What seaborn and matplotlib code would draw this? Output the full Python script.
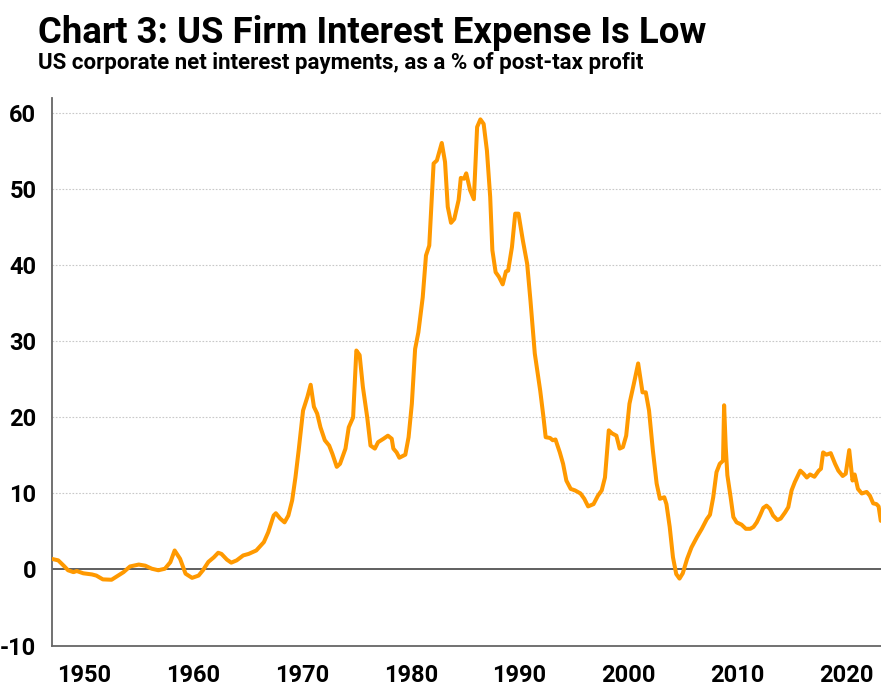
import numpy as np
import pandas as pd
import matplotlib
matplotlib.use("Agg")
import matplotlib.pyplot as plt
from matplotlib.ticker import MultipleLocator
import seaborn as sns

# Datos (año decimal, % del beneficio después de impuestos)
anios = [
    1947.0, 1947.6, 1948.1, 1948.5, 1949.0, 1949.3, 1949.9, 1950.7, 1951.1, 1951.7,
    1952.5, 1953.0, 1953.6, 1954.2, 1955.0, 1955.6, 1956.2, 1956.8, 1957.4, 1957.9,
    1958.3, 1958.8, 1959.3, 1959.9, 1960.5, 1960.9, 1961.4, 1961.9, 1962.3, 1962.6,
    1963.1, 1963.5, 1964.0, 1964.6, 1965.1, 1965.5, 1965.8, 1966.5, 1966.9, 1967.4,
    1967.6, 1968.0, 1968.4, 1968.75, 1969.1, 1969.4, 1969.7, 1970.1, 1970.5, 1970.8,
    1971.1, 1971.4, 1971.7, 1972.1, 1972.5, 1972.8, 1973.2, 1973.5, 1974.0, 1974.3,
    1974.7, 1975.0, 1975.3, 1975.6, 1976.0, 1976.3, 1976.7, 1977.0, 1977.5, 1977.9,
    1978.25, 1978.4, 1978.7, 1978.95, 1979.5, 1979.8, 1980.1, 1980.4, 1980.7, 1981.1,
    1981.4, 1981.7, 1982.1, 1982.4, 1982.85, 1983.15, 1983.4, 1983.7, 1984.0, 1984.4,
    1984.6, 1984.9, 1985.1, 1985.45, 1985.8, 1986.1, 1986.4, 1986.7, 1987.0, 1987.3,
    1987.5, 1987.8, 1988.1, 1988.45, 1988.75, 1988.95, 1989.3, 1989.6, 1989.9, 1990.3,
    1990.7, 1991.0, 1991.4, 1991.9, 1992.2, 1992.4, 1992.8, 1993.05, 1993.3, 1993.7,
    1994.0, 1994.3, 1994.7, 1995.1, 1995.6, 1995.95, 1996.3, 1996.8, 1997.2, 1997.55,
    1997.85, 1998.2, 1998.5, 1998.9, 1999.2, 1999.5, 1999.8, 2000.1, 2000.5, 2000.9,
    2001.3, 2001.6, 2001.9, 2002.25, 2002.6, 2002.9, 2003.3, 2003.5, 2003.8, 2004.1,
    2004.4, 2004.7, 2005.0, 2005.4, 2005.8, 2006.3, 2006.75, 2007.2, 2007.5, 2007.8,
    2008.1, 2008.4, 2008.7, 2008.8, 2008.95, 2009.1, 2009.4, 2009.65, 2009.95, 2010.4,
    2010.8, 2011.2, 2011.5, 2011.8, 2012.1, 2012.4, 2012.7, 2013.0, 2013.3, 2013.7,
    2014.0, 2014.4, 2014.7, 2015.0, 2015.3, 2015.8, 2016.1, 2016.4, 2016.7, 2017.1,
    2017.5, 2017.7, 2017.9, 2018.2, 2018.6, 2019.0, 2019.3, 2019.7, 2019.98, 2020.3,
    2020.6, 2020.8, 2021.1, 2021.45, 2021.9, 2022.2, 2022.5, 2022.8, 2023.0, 2023.2,
]
interes_pct = [
    1.4, 1.2, 0.5, -0.1, -0.35, -0.2, -0.5, -0.65, -0.8, -1.3,
    -1.35, -0.9, -0.35, 0.4, 0.65, 0.5, 0.1, -0.1, 0.1, 0.95,
    2.5, 1.4, -0.55, -1.1, -0.8, -0.1, 1.0, 1.6, 2.2, 2.05,
    1.3, 0.9, 1.2, 1.85, 2.05, 2.3, 2.5, 3.6, 4.9, 7.1,
    7.4, 6.7, 6.2, 7.1, 9.1, 12.1, 15.7, 20.9, 22.7, 24.3,
    21.4, 20.5, 18.7, 17.0, 16.3, 15.2, 13.5, 13.9, 15.9, 18.7,
    20.0, 28.8, 28.2, 24.0, 20.0, 16.3, 15.9, 16.75, 17.2, 17.6,
    17.2, 15.9, 15.4, 14.7, 15.1, 17.4, 21.8, 29.0, 31.2, 35.8,
    41.3, 42.6, 53.4, 53.8, 56.1, 53.6, 47.7, 45.6, 46.1, 48.6,
    51.5, 51.4, 52.1, 49.9, 48.7, 58.2, 59.2, 58.6, 55.1, 49.0,
    42.0, 39.1, 38.5, 37.5, 39.2, 39.3, 42.4, 46.8, 46.8, 43.3,
    40.2, 35.4, 28.4, 23.5, 20.0, 17.4, 17.3, 17.0, 17.1, 15.4,
    13.9, 11.7, 10.6, 10.4, 10.0, 9.3, 8.3, 8.6, 9.7, 10.4,
    12.1, 18.3, 17.9, 17.6, 15.9, 16.1, 17.6, 21.8, 24.4, 27.1,
    23.3, 23.3, 20.9, 15.7, 11.3, 9.3, 9.5, 8.6, 5.6, 1.6,
    -0.6, -1.2, -0.5, 1.4, 2.9, 4.25, 5.35, 6.6, 7.2, 9.5,
    12.8, 13.9, 14.3, 21.6, 16.1, 12.4, 9.5, 6.9, 6.2, 5.9,
    5.35, 5.35, 5.6, 6.2, 7.1, 8.1, 8.4, 8.0, 7.1, 6.5,
    6.7, 7.5, 8.2, 10.4, 11.5, 13.0, 12.6, 12.1, 12.5, 12.2,
    13.0, 13.25, 15.4, 15.1, 15.3, 13.9, 13.0, 12.3, 12.6, 15.7,
    11.7, 12.5, 10.6, 10.0, 10.2, 9.7, 8.7, 8.6, 8.3, 6.4,
]
y_ticks = [-10, 0, 10, 20, 30, 40, 50, 60]
y_labels = ["-10", "0", "10", "20", "30", "40", "50", "60"]
x_ticks = [1950, 1960, 1970, 1980, 1990, 2000, 2010, 2020]
x_labels = ["1950", "1960", "1970", "1980", "1990", "2000", "2010", "2020"]

df = pd.DataFrame({"Año": anios, "Interés": interes_pct})

sns.set_style("white")
plt.rcParams["font.family"] = ["Roboto", "DejaVu Sans"]

fig = plt.figure(figsize=(8.81, 6.86), dpi=100)
ax = fig.add_axes([0.0587, 0.059, 0.9413, 0.798])

# grilla punteada
for v in y_ticks[2:]:
    ax.axhline(v, color="#c8c8c8", linestyle=(0, (1.5, 1.5)), linewidth=0.8, zorder=0)
ax.axhline(0, color="#444444", linewidth=1.2, zorder=1)

sns.lineplot(data=df, x="Año", y="Interés", sort=False, color="#FF9900",
             linewidth=2.9, ax=ax, zorder=3)

ax.set_xlim(1947.0, 2023.22)
ax.set_ylim(-10, 62)
ax.set_xticks(x_ticks, x_labels)
ax.set_yticks(y_ticks, y_labels)
ax.xaxis.set_minor_locator(MultipleLocator(1))
ax.yaxis.set_minor_locator(MultipleLocator(2))
ax.set_xlabel("")
ax.set_ylabel("")

for s in ["top", "right"]:
    ax.spines[s].set_visible(False)
for s in ["left", "bottom"]:
    ax.spines[s].set_color("#666666")
    ax.spines[s].set_linewidth(1.3)

ax.tick_params(axis="both", which="major", direction="out", length=5, width=1.2,
               color="#666666", labelsize=17, labelcolor="black")
ax.tick_params(axis="both", which="minor", direction="out", length=3, width=1.0,
               color="#666666")
ax.tick_params(axis="x", which="major", pad=8)
ax.tick_params(axis="y", which="major", pad=6)
for lbl in ax.get_xticklabels() + ax.get_yticklabels():
    lbl.set_fontweight("bold")

fig.text(0.043, 0.938, "Chart 3: US Firm Interest Expense Is Low",
         fontsize=26.3, fontweight="bold", color="black", va="baseline", ha="left")
fig.text(0.043, 0.900, "US corporate net interest payments, as a % of post-tax profit",
         fontsize=16, fontweight="bold", color="black", va="baseline", ha="left")

fig.savefig("out.png", dpi=100)
